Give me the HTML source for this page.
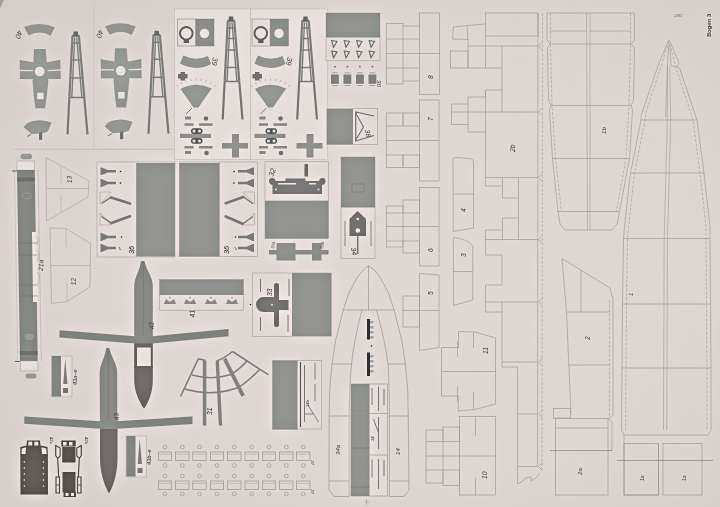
<!DOCTYPE html>
<html><head><meta charset="utf-8"><title>Bogen 3</title>
<style>
html,body{margin:0;padding:0;background:#e1dddb;}
body{width:720px;height:507px;overflow:hidden;font-family:"Liberation Sans",sans-serif;}
svg{display:block;font-family:"Liberation Sans",sans-serif;font-style:italic;}
</style></head><body>
<svg width="720" height="507" viewBox="0 0 720 507">
<defs>
<radialGradient id="bg" cx="0.56" cy="0.52" r="0.76">
<stop offset="0" stop-color="#dfd7d4"/><stop offset="0.5" stop-color="#ddd5d2"/><stop offset="1" stop-color="#d3cbc8"/>
</radialGradient>
<linearGradient id="lr" x1="0" y1="0" x2="1" y2="0">
<stop offset="0" stop-color="#fff" stop-opacity="0.1"/><stop offset="0.42" stop-color="#fff" stop-opacity="0.06"/><stop offset="0.5" stop-color="#3a302c" stop-opacity="0"/><stop offset="0.66" stop-color="#3a302c" stop-opacity="0.022"/><stop offset="1" stop-color="#3a302c" stop-opacity="0.028"/>
</linearGradient>
<filter id="usm" x="0" y="0" width="1" height="1" color-interpolation-filters="sRGB">
<feGaussianBlur in="SourceGraphic" stdDeviation="7" result="b"/>
<feComposite in="SourceGraphic" in2="b" operator="arithmetic" k1="0" k2="1.28" k3="-0.28" k4="0" result="u1"/>
<feGaussianBlur in="u1" stdDeviation="1.6" result="b2"/>
<feComposite in="u1" in2="b2" operator="arithmetic" k1="0" k2="1.15" k3="-0.15" k4="0"/>
</filter>
<filter id="soft" x="-2%" y="-2%" width="104%" height="104%"><feGaussianBlur stdDeviation="0.55"/></filter>
</defs>
<g filter="url(#usm)">
<rect x="-30" y="-30" width="780" height="567" fill="url(#bg)"/>
<polygon points="0,0 4,0 0,8" fill="#adacab"/>
<g filter="url(#soft)">
<g transform="translate(0 0)">
<path d="M24,27 Q39.5,20.8 54.8,27.3 L50.6,35.7 Q39.5,29.4 28.7,35.5 Z" fill="#9c9d9a" stroke="none" stroke-width="0.7" />
<text x="18" y="30" font-size="7.3" fill="#666" transform="rotate(110 18 30)" >40</text>
<polygon points="34,49 45.6,49 47.5,70 48.3,82 46.5,98 45,108.3 35.5,108.3 34,98 32.6,82 33,70" fill="#9c9d9a" stroke="none" stroke-width="0.7" />
<polygon points="19.7,60 33.5,62.3 33.5,70 19.9,69.7" fill="#9c9d9a" stroke="none" stroke-width="0.7" />
<polygon points="19.9,71.2 33.5,71.2 33.5,79 19.9,79" fill="#9c9d9a" stroke="none" stroke-width="0.7" />
<polygon points="46,62.5 60.3,59.8 60.5,69.3 46,70" fill="#9c9d9a" stroke="none" stroke-width="0.7" />
<polygon points="46,71.2 60.5,70.7 60.7,79 46,79" fill="#9c9d9a" stroke="none" stroke-width="0.7" />
<circle cx="39.7" cy="71.5" r="4.8" fill="#e0d9d6" stroke="none" stroke-width="0.7"/>
<circle cx="39.7" cy="71.5" r="2.6" fill="none" stroke="#c8c4c2" stroke-width="0.5"/>
<rect x="37.2" y="92.7" width="6.4" height="6.5" fill="#e0d9d6" />
<line x1="72.5" y1="35.5" x2="67.5" y2="134.4" stroke="#8e8e8c" stroke-width="2.2" />
<line x1="78.9" y1="35.5" x2="87.5" y2="134.4" stroke="#8e8e8c" stroke-width="2.2" />
<line x1="74.7" y1="37.5" x2="71.74" y2="98" stroke="#8e8e8c" stroke-width="1.4" />
<line x1="76.7" y1="37.5" x2="81.93" y2="98" stroke="#8e8e8c" stroke-width="1.4" />
<line x1="72.12" y1="43" x2="79.55" y2="43" stroke="#8e8e8c" stroke-width="1.5" />
<line x1="71.26" y1="60" x2="81.03" y2="60" stroke="#8e8e8c" stroke-width="1.5" />
<line x1="70.35" y1="78" x2="82.6" y2="78" stroke="#8e8e8c" stroke-width="1.5" />
<line x1="69.37" y1="97.5" x2="84.29" y2="97.5" stroke="#8e8e8c" stroke-width="1.5" />
<rect x="72.2" y="34.5" width="7.0" height="2.5" fill="#8e8e8c" />
<rect x="73.5" y="31.5" width="4.4" height="4.5" fill="#7e7b79" />
<polygon points="23.5,127 27.5,123 33,121 40,120.2 46,121 51.5,122.8 47.8,131.5 42.5,133.3 39,133.5 31.5,134" fill="#9c9d9a" stroke="none" stroke-width="0.7" />
<polygon points="39,132.5 42.2,132.5 42.2,139.8 39,139.8" fill="#858280" stroke="none" stroke-width="0.7" />
<line x1="27" y1="136.5" x2="31" y2="134.3" stroke="#555" stroke-width="0.6" />
</g>
<g transform="translate(81 -0.7)">
<path d="M24,27 Q39.5,20.8 54.8,27.3 L50.6,35.7 Q39.5,29.4 28.7,35.5 Z" fill="#9c9d9a" stroke="none" stroke-width="0.7" />
<text x="18" y="30" font-size="7.3" fill="#666" transform="rotate(110 18 30)" >40</text>
<polygon points="34,49 45.6,49 47.5,70 48.3,82 46.5,98 45,108.3 35.5,108.3 34,98 32.6,82 33,70" fill="#9c9d9a" stroke="none" stroke-width="0.7" />
<polygon points="19.7,60 33.5,62.3 33.5,70 19.9,69.7" fill="#9c9d9a" stroke="none" stroke-width="0.7" />
<polygon points="19.9,71.2 33.5,71.2 33.5,79 19.9,79" fill="#9c9d9a" stroke="none" stroke-width="0.7" />
<polygon points="46,62.5 60.3,59.8 60.5,69.3 46,70" fill="#9c9d9a" stroke="none" stroke-width="0.7" />
<polygon points="46,71.2 60.5,70.7 60.7,79 46,79" fill="#9c9d9a" stroke="none" stroke-width="0.7" />
<circle cx="39.7" cy="71.5" r="4.8" fill="#e0d9d6" stroke="none" stroke-width="0.7"/>
<circle cx="39.7" cy="71.5" r="2.6" fill="none" stroke="#c8c4c2" stroke-width="0.5"/>
<rect x="37.2" y="92.7" width="6.4" height="6.5" fill="#e0d9d6" />
<line x1="72.5" y1="35.5" x2="67.5" y2="134.4" stroke="#8e8e8c" stroke-width="2.2" />
<line x1="78.9" y1="35.5" x2="87.5" y2="134.4" stroke="#8e8e8c" stroke-width="2.2" />
<line x1="74.7" y1="37.5" x2="71.74" y2="98" stroke="#8e8e8c" stroke-width="1.4" />
<line x1="76.7" y1="37.5" x2="81.93" y2="98" stroke="#8e8e8c" stroke-width="1.4" />
<line x1="72.12" y1="43" x2="79.55" y2="43" stroke="#8e8e8c" stroke-width="1.5" />
<line x1="71.26" y1="60" x2="81.03" y2="60" stroke="#8e8e8c" stroke-width="1.5" />
<line x1="70.35" y1="78" x2="82.6" y2="78" stroke="#8e8e8c" stroke-width="1.5" />
<line x1="69.37" y1="97.5" x2="84.29" y2="97.5" stroke="#8e8e8c" stroke-width="1.5" />
<rect x="72.2" y="34.5" width="7.0" height="2.5" fill="#8e8e8c" />
<rect x="73.5" y="31.5" width="4.4" height="4.5" fill="#7e7b79" />
<polygon points="23.5,127 27.5,123 33,121 40,120.2 46,121 51.5,122.8 47.8,131.5 42.5,133.3 39,133.5 31.5,134" fill="#9c9d9a" stroke="none" stroke-width="0.7" />
<polygon points="39,132.5 42.2,132.5 42.2,139.8 39,139.8" fill="#858280" stroke="none" stroke-width="0.7" />
<line x1="27" y1="136.5" x2="31" y2="134.3" stroke="#555" stroke-width="0.6" />
</g>
<line x1="94" y1="4" x2="94" y2="148" stroke="#cbc4c1" stroke-width="0.6" />
<line x1="14" y1="149.3" x2="175" y2="149.3" stroke="#c4bdba" stroke-width="0.7" />
<rect x="174.5" y="9" width="76.0" height="150.5" fill="#e2dbd8" stroke="#c6bebb" stroke-width="0.6"/>
<rect x="250.5" y="9" width="77.0" height="150.5" fill="#e2dbd8" stroke="#c6bebb" stroke-width="0.6"/>
<g transform="translate(0 0)">
<rect x="177.5" y="19" width="36.5" height="27" fill="#dfd7d4" stroke="#a39c99" stroke-width="0.6"/>
<rect x="195.3" y="19" width="18.7" height="27" fill="#959693" />
<circle cx="204.5" cy="33.5" r="4.7" fill="#e0d9d6" stroke="none" stroke-width="0.7"/>
<circle cx="186.3" cy="33.3" r="6.3" fill="#e0d9d6" stroke="#787674" stroke-width="1.9"/>
<rect x="183.7" y="39.5" width="5.3" height="3.5" fill="#787674" />
<path d="M183.3,55.5 Q196,61.5 208,56 L211,64 Q196,72 180,63.5 Z" fill="#9c9d9a" stroke="none" stroke-width="0.7" />
<text x="213" y="57" font-size="7.3" fill="#666" transform="rotate(100 213 57)" >39</text>
<rect x="178" y="74" width="9.5" height="4.5" fill="#858280" />
<rect x="180.5" y="72" width="4.5" height="8.5" fill="#858280" />
<path d="M196,111 L180.5,89 Q196,81 211.7,88.5 Z" fill="#9c9d9a" stroke="none" stroke-width="0.7" />
<polygon points="193.3,107.5 198.7,107.5 196,111.5" fill="#e0d9d6" stroke="none" stroke-width="0.7" />
<line x1="177.8" y1="86.8" x2="176.6" y2="85.2" stroke="#999" stroke-width="0.5" />
<line x1="181.9" y1="84.1" x2="181.0" y2="82.3" stroke="#999" stroke-width="0.5" />
<line x1="186.4" y1="82.1" x2="185.7" y2="80.2" stroke="#999" stroke-width="0.5" />
<line x1="191.1" y1="80.9" x2="190.8" y2="78.9" stroke="#999" stroke-width="0.5" />
<line x1="196.0" y1="80.5" x2="196.0" y2="78.5" stroke="#999" stroke-width="0.5" />
<line x1="200.9" y1="80.9" x2="201.2" y2="78.9" stroke="#999" stroke-width="0.5" />
<line x1="205.6" y1="82.1" x2="206.3" y2="80.2" stroke="#999" stroke-width="0.5" />
<line x1="210.1" y1="84.1" x2="211.0" y2="82.3" stroke="#999" stroke-width="0.5" />
<line x1="214.2" y1="86.8" x2="215.4" y2="85.2" stroke="#999" stroke-width="0.5" />
<line x1="186" y1="114" x2="192" y2="108" stroke="#666" stroke-width="0.6" />
<line x1="227.8" y1="20.5" x2="222.7" y2="119.5" stroke="#8e8e8c" stroke-width="2.2" />
<line x1="234.2" y1="20.5" x2="242.5" y2="119.5" stroke="#8e8e8c" stroke-width="2.2" />
<line x1="230.0" y1="22.5" x2="227.03" y2="82" stroke="#8e8e8c" stroke-width="1.4" />
<line x1="232.0" y1="22.5" x2="236.96" y2="82" stroke="#8e8e8c" stroke-width="1.4" />
<line x1="227.41" y1="28" x2="234.83" y2="28" stroke="#8e8e8c" stroke-width="1.5" />
<line x1="226.87" y1="38.5" x2="235.71" y2="38.5" stroke="#8e8e8c" stroke-width="1.5" />
<line x1="226.28" y1="50" x2="236.67" y2="50" stroke="#8e8e8c" stroke-width="1.5" />
<line x1="225.38" y1="67.5" x2="238.14" y2="67.5" stroke="#8e8e8c" stroke-width="1.5" />
<line x1="224.66" y1="81.5" x2="239.31" y2="81.5" stroke="#8e8e8c" stroke-width="1.5" />
<rect x="227.5" y="19.5" width="7.0" height="2.5" fill="#8e8e8c" />
<rect x="228.8" y="16.5" width="4.4" height="4.5" fill="#7e7b79" />
<circle cx="206" cy="118.5" r="2.3" fill="#888785" stroke="none" stroke-width="0.7"/>
<rect x="185" y="116.5" width="6" height="3.0" fill="#999896" />
<rect x="184.5" y="123.3" width="9.0" height="2.5" fill="#999896" />
<rect x="199" y="123.3" width="13.5" height="2.5" fill="#999896" />
<rect x="180" y="133.8" width="31" height="4.2" fill="#9b9a98" />
<rect x="191" y="128.3" width="11.5" height="5.6" rx="2.7" fill="#6c6c6c"/>
<rect x="191" y="138" width="11.5" height="5.8" rx="2.7" fill="#6c6c6c"/>
<circle cx="194" cy="131" r="1.5" fill="#d9d3d1" stroke="none" stroke-width="0.7"/>
<circle cx="199.5" cy="131" r="1.5" fill="#d9d3d1" stroke="none" stroke-width="0.7"/>
<circle cx="194" cy="141" r="1.5" fill="#d9d3d1" stroke="none" stroke-width="0.7"/>
<circle cx="199.5" cy="141" r="1.5" fill="#d9d3d1" stroke="none" stroke-width="0.7"/>
<rect x="184.5" y="146" width="9.0" height="2.5" fill="#999896" />
<rect x="199" y="146" width="13.5" height="2.5" fill="#999896" />
<circle cx="206.5" cy="153" r="2.3" fill="#888785" stroke="none" stroke-width="0.7"/>
<rect x="185" y="151" width="6" height="3" fill="#999896" />
<rect x="232" y="134" width="7" height="23.5" fill="#9b9a98" />
<rect x="222" y="143" width="26" height="5.5" fill="#9b9a98" />
</g>
<g transform="translate(74.5 0)">
<rect x="177.5" y="19" width="36.5" height="27" fill="#dfd7d4" stroke="#a39c99" stroke-width="0.6"/>
<rect x="195.3" y="19" width="18.7" height="27" fill="#959693" />
<circle cx="204.5" cy="33.5" r="4.7" fill="#e0d9d6" stroke="none" stroke-width="0.7"/>
<circle cx="186.3" cy="33.3" r="6.3" fill="#e0d9d6" stroke="#787674" stroke-width="1.9"/>
<rect x="183.7" y="39.5" width="5.3" height="3.5" fill="#787674" />
<path d="M183.3,55.5 Q196,61.5 208,56 L211,64 Q196,72 180,63.5 Z" fill="#9c9d9a" stroke="none" stroke-width="0.7" />
<text x="213" y="57" font-size="7.3" fill="#666" transform="rotate(100 213 57)" >39</text>
<rect x="178" y="74" width="9.5" height="4.5" fill="#858280" />
<rect x="180.5" y="72" width="4.5" height="8.5" fill="#858280" />
<path d="M196,111 L180.5,89 Q196,81 211.7,88.5 Z" fill="#9c9d9a" stroke="none" stroke-width="0.7" />
<polygon points="193.3,107.5 198.7,107.5 196,111.5" fill="#e0d9d6" stroke="none" stroke-width="0.7" />
<line x1="177.8" y1="86.8" x2="176.6" y2="85.2" stroke="#999" stroke-width="0.5" />
<line x1="181.9" y1="84.1" x2="181.0" y2="82.3" stroke="#999" stroke-width="0.5" />
<line x1="186.4" y1="82.1" x2="185.7" y2="80.2" stroke="#999" stroke-width="0.5" />
<line x1="191.1" y1="80.9" x2="190.8" y2="78.9" stroke="#999" stroke-width="0.5" />
<line x1="196.0" y1="80.5" x2="196.0" y2="78.5" stroke="#999" stroke-width="0.5" />
<line x1="200.9" y1="80.9" x2="201.2" y2="78.9" stroke="#999" stroke-width="0.5" />
<line x1="205.6" y1="82.1" x2="206.3" y2="80.2" stroke="#999" stroke-width="0.5" />
<line x1="210.1" y1="84.1" x2="211.0" y2="82.3" stroke="#999" stroke-width="0.5" />
<line x1="214.2" y1="86.8" x2="215.4" y2="85.2" stroke="#999" stroke-width="0.5" />
<line x1="186" y1="114" x2="192" y2="108" stroke="#666" stroke-width="0.6" />
<line x1="227.8" y1="20.5" x2="222.7" y2="119.5" stroke="#8e8e8c" stroke-width="2.2" />
<line x1="234.2" y1="20.5" x2="242.5" y2="119.5" stroke="#8e8e8c" stroke-width="2.2" />
<line x1="230.0" y1="22.5" x2="227.03" y2="82" stroke="#8e8e8c" stroke-width="1.4" />
<line x1="232.0" y1="22.5" x2="236.96" y2="82" stroke="#8e8e8c" stroke-width="1.4" />
<line x1="227.41" y1="28" x2="234.83" y2="28" stroke="#8e8e8c" stroke-width="1.5" />
<line x1="226.87" y1="38.5" x2="235.71" y2="38.5" stroke="#8e8e8c" stroke-width="1.5" />
<line x1="226.28" y1="50" x2="236.67" y2="50" stroke="#8e8e8c" stroke-width="1.5" />
<line x1="225.38" y1="67.5" x2="238.14" y2="67.5" stroke="#8e8e8c" stroke-width="1.5" />
<line x1="224.66" y1="81.5" x2="239.31" y2="81.5" stroke="#8e8e8c" stroke-width="1.5" />
<rect x="227.5" y="19.5" width="7.0" height="2.5" fill="#8e8e8c" />
<rect x="228.8" y="16.5" width="4.4" height="4.5" fill="#7e7b79" />
<circle cx="206" cy="118.5" r="2.3" fill="#888785" stroke="none" stroke-width="0.7"/>
<rect x="185" y="116.5" width="6" height="3.0" fill="#999896" />
<rect x="184.5" y="123.3" width="9.0" height="2.5" fill="#999896" />
<rect x="199" y="123.3" width="13.5" height="2.5" fill="#999896" />
<rect x="180" y="133.8" width="31" height="4.2" fill="#9b9a98" />
<rect x="191" y="128.3" width="11.5" height="5.6" rx="2.7" fill="#6c6c6c"/>
<rect x="191" y="138" width="11.5" height="5.8" rx="2.7" fill="#6c6c6c"/>
<circle cx="194" cy="131" r="1.5" fill="#d9d3d1" stroke="none" stroke-width="0.7"/>
<circle cx="199.5" cy="131" r="1.5" fill="#d9d3d1" stroke="none" stroke-width="0.7"/>
<circle cx="194" cy="141" r="1.5" fill="#d9d3d1" stroke="none" stroke-width="0.7"/>
<circle cx="199.5" cy="141" r="1.5" fill="#d9d3d1" stroke="none" stroke-width="0.7"/>
<rect x="184.5" y="146" width="9.0" height="2.5" fill="#999896" />
<rect x="199" y="146" width="13.5" height="2.5" fill="#999896" />
<circle cx="206.5" cy="153" r="2.3" fill="#888785" stroke="none" stroke-width="0.7"/>
<rect x="185" y="151" width="6" height="3" fill="#999896" />
<rect x="232" y="134" width="7" height="23.5" fill="#9b9a98" />
<rect x="222" y="143" width="26" height="5.5" fill="#9b9a98" />
</g>
<rect x="326" y="13" width="54" height="47.8" fill="#dfd7d4" stroke="#b1aaa7" stroke-width="0.6"/>
<rect x="326" y="13" width="54" height="24.5" fill="#959693" />
<polygon points="331.7,40.5 337.0,41.5 333.5,47.3" fill="none" stroke="#838383" stroke-width="1.2" />
<polygon points="331.7,51 337.0,52 333.5,57.8" fill="none" stroke="#838383" stroke-width="1.2" />
<polygon points="344.2,40.5 349.5,41.5 346.0,47.3" fill="none" stroke="#838383" stroke-width="1.2" />
<polygon points="344.2,51 349.5,52 346.0,57.8" fill="none" stroke="#838383" stroke-width="1.2" />
<polygon points="356.7,40.5 362.0,41.5 358.5,47.3" fill="none" stroke="#838383" stroke-width="1.2" />
<polygon points="356.7,51 362.0,52 358.5,57.8" fill="none" stroke="#838383" stroke-width="1.2" />
<polygon points="369.2,40.5 374.5,41.5 371.0,47.3" fill="none" stroke="#838383" stroke-width="1.2" />
<polygon points="369.2,51 374.5,52 371.0,57.8" fill="none" stroke="#838383" stroke-width="1.2" />
<rect x="331.0" y="74.5" width="7.8" height="9.3" fill="#8e8e8e" />
<rect x="332.0" y="72.3" width="5.8" height="1.0" fill="#aaa" />
<rect x="332.0" y="85" width="5.8" height="1" fill="#aaa" />
<circle cx="334.9" cy="66.7" r="0.9" fill="#888785" stroke="none" stroke-width="0.7"/>
<rect x="343.5" y="74.5" width="7.8" height="9.3" fill="#8e8e8e" />
<rect x="344.5" y="72.3" width="5.8" height="1.0" fill="#aaa" />
<rect x="344.5" y="85" width="5.8" height="1" fill="#aaa" />
<circle cx="347.4" cy="66.7" r="0.9" fill="#888785" stroke="none" stroke-width="0.7"/>
<rect x="356.0" y="74.5" width="7.8" height="9.3" fill="#8e8e8e" />
<rect x="357.0" y="72.3" width="5.8" height="1.0" fill="#aaa" />
<rect x="357.0" y="85" width="5.8" height="1" fill="#aaa" />
<circle cx="359.9" cy="66.7" r="0.9" fill="#888785" stroke="none" stroke-width="0.7"/>
<rect x="368.5" y="74.5" width="7.8" height="9.3" fill="#8e8e8e" />
<rect x="369.5" y="72.3" width="5.8" height="1.0" fill="#aaa" />
<rect x="369.5" y="85" width="5.8" height="1" fill="#aaa" />
<circle cx="372.4" cy="66.7" r="0.9" fill="#888785" stroke="none" stroke-width="0.7"/>
<text x="377" y="80" font-size="6.1" fill="#666" transform="rotate(90 377 80)" >30</text>
<rect x="326.7" y="108.5" width="51.0" height="35.8" fill="#dfd7d4" stroke="#b1aaa7" stroke-width="0.6"/>
<rect x="327" y="109" width="26" height="35.5" fill="#959693" />
<polyline points="374,116 355.7,112 355.7,141 374,135.5" fill="none" stroke="#858585" stroke-width="1.2" />
<polyline points="355.7,113 363.5,127 355.7,140" fill="none" stroke="#858585" stroke-width="1.1" />
<text x="365" y="130" font-size="6.7" fill="#666" transform="rotate(80 365 130)" >38</text>
<rect x="341" y="157" width="34" height="101.5" fill="#dfd7d4" stroke="#b1aaa7" stroke-width="0.6"/>
<rect x="341" y="157" width="34" height="50.5" fill="#959693" />
<rect x="352" y="184" width="12" height="8" fill="none" stroke="#7c7c7a" stroke-width="0.5" />
<polygon points="349.5,219 357.5,211 366,219 366,236 349.5,236" fill="#7e7b79" stroke="none" stroke-width="0.7" />
<circle cx="357.8" cy="219" r="1.3" fill="#d9d3d1" stroke="none" stroke-width="0.7"/>
<circle cx="357.8" cy="230.5" r="2.3" fill="#e0d9d6" stroke="none" stroke-width="0.7"/>
<line x1="357.8" y1="236" x2="357.8" y2="254" stroke="#666" stroke-width="1" />
<line x1="345" y1="221" x2="345" y2="246" stroke="#868584" stroke-width="0.8" />
<line x1="371" y1="221" x2="371" y2="246" stroke="#868584" stroke-width="0.8" />
<text x="351" y="248" font-size="6.7" fill="#555" transform="rotate(80 351 248)" >34</text>
<rect x="20.5" y="153.8" width="11.5" height="5.4" rx="2.7" fill="#a3a2a0"/>
<polygon points="17,161 34.5,161 34.5,170 17,170" fill="#e0d9d6" stroke="#aaa3a0" stroke-width="0.5" />
<polygon points="17.0,170 34.7,170 37.72,361 20.02,361" fill="#8b8c8a" stroke="none" stroke-width="0.7" />
<polygon points="17.12,177.5 34.82,177.5 34.88,181.5 17.18,181.5" fill="#7c7a78" stroke="none" stroke-width="0.7" />
<polygon points="19.86,351 37.56,351 37.62,355 19.92,355" fill="#7c7a78" stroke="none" stroke-width="0.7" />
<polygon points="31.98,232 36.98,232 38.08,302 33.08,302" fill="#e0d9d6" stroke="none" stroke-width="0.7" />
<line x1="18.15" y1="243" x2="37.15" y2="243" stroke="#7a7a7a" stroke-width="0.5" />
<line x1="18.34" y1="255" x2="37.34" y2="255" stroke="#7a7a7a" stroke-width="0.5" />
<line x1="18.82" y1="285" x2="37.82" y2="285" stroke="#7a7a7a" stroke-width="0.5" />
<line x1="18.99" y1="296" x2="37.99" y2="296" stroke="#7a7a7a" stroke-width="0.5" />
<path d="M36.5,236 q3,4 0,9 M37,250 q4,5 0,11 M37.5,272 q4,6 0,12" fill="none" stroke="#aaa3a0" stroke-width="0.5" />
<line x1="38" y1="170" x2="41.32" y2="361" stroke="#b0a9a6" stroke-width="0.5" />
<line x1="14.5" y1="170" x2="17.72" y2="361" stroke="#bab2af" stroke-width="0.5" />
<rect x="22.5" y="193" width="8.5" height="5.5" rx="2.7" fill="none" stroke="#a5a5a3" stroke-width="0.6"/>
<rect x="25" y="334" width="8.5" height="5.5" rx="2.7" fill="#9a9a98" stroke="#a5a5a3" stroke-width="0.5"/>
<polygon points="20.5,361 38,361 38,371 20.5,371" fill="#e0d9d6" stroke="#aaa3a0" stroke-width="0.5" />
<rect x="25.5" y="373.5" width="11" height="5" rx="2.5" fill="#a3a2a0"/>
<line x1="12" y1="171" x2="17" y2="171" stroke="#666" stroke-width="0.8" />
<line x1="15" y1="361.5" x2="20" y2="361.5" stroke="#666" stroke-width="0.8" />
<text x="43" y="271" font-size="6.7" fill="#666" transform="rotate(-88 43 271)" >21a</text>
<polygon points="46,157.5 89,181 88,197 46.5,221" fill="none" stroke="#b3aca9" stroke-width="0.6" />
<line x1="46" y1="188.5" x2="89" y2="188.5" stroke="#b3aca9" stroke-width="0.6" />
<line x1="61" y1="166" x2="61" y2="183" stroke="#b3aca9" stroke-width="0.5" />
<line x1="61" y1="195" x2="61" y2="212" stroke="#b3aca9" stroke-width="0.5" />
<text x="72" y="183" font-size="6.7" fill="#666" transform="rotate(-95 72 183)" >13</text>
<polygon points="50,228 66,228.5 90.5,243.5 90,287 67,301.5 51.5,303.5" fill="none" stroke="#b3aca9" stroke-width="0.6" />
<line x1="50.5" y1="265.5" x2="90" y2="265.5" stroke="#b3aca9" stroke-width="0.6" />
<line x1="66" y1="229" x2="66" y2="247" stroke="#b3aca9" stroke-width="0.5" />
<line x1="67" y1="284" x2="67" y2="301" stroke="#b3aca9" stroke-width="0.5" />
<text x="76" y="285" font-size="6.7" fill="#666" transform="rotate(-95 76 285)" >12</text>
<rect x="97" y="162" width="78" height="95" fill="#dfd7d4" stroke="#b1aaa7" stroke-width="0.6"/>
<rect x="136.2" y="163" width="38.8" height="93.5" fill="#959693" />
<polygon points="100.5,167.5 101.7,167.5 108.0,169.95 116,169.95 116,172.55 108.0,172.55 101.7,175 100.5,175" fill="#8c8c8a" stroke="none" stroke-width="0.7" />
<polygon points="100.5,179 101.7,179 108.0,181.7 116,181.7 116,184.3 108.0,184.3 101.7,187 100.5,187" fill="#8c8c8a" stroke="none" stroke-width="0.7" />
<circle cx="120.5" cy="171.5" r="0.8" fill="#555" stroke="none" stroke-width="0.7"/>
<circle cx="120.5" cy="183" r="0.8" fill="#555" stroke="none" stroke-width="0.7"/>
<polygon points="100,192 111,192 100,204" fill="none" stroke="#aaa3a0" stroke-width="0.5" />
<line x1="111" y1="197.5" x2="130" y2="203.5" stroke="#8c8c8a" stroke-width="2.7" stroke-linecap="round"/>
<line x1="101.5" y1="203.5" x2="111" y2="197.3" stroke="#8c8c8a" stroke-width="1.4" />
<polygon points="100,213 100,225 111,225" fill="none" stroke="#aaa3a0" stroke-width="0.5" />
<line x1="111.5" y1="223" x2="130" y2="216.3" stroke="#8c8c8a" stroke-width="2.7" stroke-linecap="round"/>
<line x1="101.5" y1="216.5" x2="111.5" y2="223.2" stroke="#8c8c8a" stroke-width="1.4" />
<polygon points="100.5,233 101.7,233 108.0,235.7 116,235.7 116,238.3 108.0,238.3 101.7,241 100.5,241" fill="#8c8c8a" stroke="none" stroke-width="0.7" />
<polygon points="100.5,244 101.7,244 108.0,246.7 116,246.7 116,249.3 108.0,249.3 101.7,252 100.5,252" fill="#8c8c8a" stroke="none" stroke-width="0.7" />
<circle cx="121.5" cy="237" r="0.8" fill="#555" stroke="none" stroke-width="0.7"/>
<line x1="119" y1="247" x2="120.5" y2="250" stroke="#555" stroke-width="0.6" />
<text x="134" y="254" font-size="7.3" fill="#555" transform="rotate(-90 134 254)" >36</text>
<rect x="179.3" y="162" width="78.2" height="94.5" fill="#dfd7d4" stroke="#b1aaa7" stroke-width="0.6"/>
<rect x="179.3" y="163" width="40.2" height="93.5" fill="#959693" />
<line x1="219.5" y1="162" x2="219.5" y2="256.5" stroke="#aaa3a0" stroke-width="0.5" />
<polygon points="254,167.5 252.8,167.5 246.5,169.95 238,169.95 238,172.55 246.5,172.55 252.8,175 254,175" fill="#8c8c8a" stroke="none" stroke-width="0.7" />
<polygon points="254,179 252.8,179 246.5,181.7 238,181.7 238,184.3 246.5,184.3 252.8,187 254,187" fill="#8c8c8a" stroke="none" stroke-width="0.7" />
<circle cx="234" cy="171.5" r="0.8" fill="#555" stroke="none" stroke-width="0.7"/>
<circle cx="234" cy="183" r="0.8" fill="#555" stroke="none" stroke-width="0.7"/>
<line x1="225.7" y1="203.2" x2="243.3" y2="197" stroke="#8c8c8a" stroke-width="2.7" stroke-linecap="round"/>
<line x1="243.3" y1="196.8" x2="253" y2="203.8" stroke="#8c8c8a" stroke-width="1.4" />
<line x1="225.7" y1="216.5" x2="242.5" y2="223.8" stroke="#8c8c8a" stroke-width="2.7" stroke-linecap="round"/>
<line x1="242.5" y1="224" x2="253" y2="216.5" stroke="#8c8c8a" stroke-width="1.4" />
<polygon points="254.5,192 243,192 254.5,204" fill="none" stroke="#aaa3a0" stroke-width="0.5" />
<polygon points="254.5,213 254.5,225 243,225" fill="none" stroke="#aaa3a0" stroke-width="0.5" />
<polygon points="254,233 252.8,233 246.5,235.7 238,235.7 238,238.3 246.5,238.3 252.8,241 254,241" fill="#8c8c8a" stroke="none" stroke-width="0.7" />
<polygon points="254,244 252.8,244 246.5,246.7 238,246.7 238,249.3 246.5,249.3 252.8,252 254,252" fill="#8c8c8a" stroke="none" stroke-width="0.7" />
<circle cx="235.5" cy="237" r="0.8" fill="#555" stroke="none" stroke-width="0.7"/>
<line x1="235" y1="247" x2="236.5" y2="250" stroke="#555" stroke-width="0.6" />
<text x="228.5" y="254" font-size="7.3" fill="#555" transform="rotate(-90 228.5 254)" >36</text>
<rect x="265" y="161.5" width="63.5" height="77.0" fill="#dfd7d4" stroke="#b1aaa7" stroke-width="0.6"/>
<rect x="265" y="200.7" width="63.5" height="37.8" fill="#959693" />
<rect x="304.5" y="164" width="3.5" height="12.5" fill="#807d7b" />
<path d="M269,181 q0,-3 3,-3 q3,0 3.5,3 l10,0 l0,-2.5 l20,0 l0,2.5 l13.5,0 q0.5,-3 3.5,-3 q3,0 3,3 q0,3 -3.5,4 l0,9 l-49.5,0 l0,-9 q-3.5,-1 -3.500,-4 z" fill="#838080" stroke="none" stroke-width="0.7" />
<rect x="278" y="183" width="18" height="1.5" fill="#d9d3d1" />
<rect x="309" y="183" width="7" height="1.5" fill="#d9d3d1" />
<circle cx="276" cy="189.5" r="1" fill="#d9d3d1" stroke="none" stroke-width="0.7"/>
<circle cx="318.5" cy="189.5" r="1" fill="#d9d3d1" stroke="none" stroke-width="0.7"/>
<text x="273" y="177" font-size="7.3" fill="#666" transform="rotate(-70 273 177)" >32</text>
<rect x="276.5" y="243" width="19.0" height="17.5" fill="#949593" />
<rect x="312" y="243" width="9.5" height="17.5" fill="#949593" />
<rect x="269" y="250" width="59.5" height="4.5" fill="#969694" />
<text x="274" y="249" font-size="4.4" fill="#666" transform="rotate(-80 274 249)" >32a</text>
<text x="323" y="249" font-size="4.4" fill="#666" transform="rotate(-80 323 249)" >32b</text>
<rect x="159.5" y="279.5" width="83.8" height="30.7" fill="#dfd7d4" stroke="#b1aaa7" stroke-width="0.6"/>
<rect x="159.5" y="279.5" width="84.0" height="15.5" fill="#959693" />
<polygon points="164,304 166,299 169,301.5 171,301.5 174,299 176,304" fill="#999896" stroke="none" stroke-width="0.7" />
<circle cx="170" cy="297.7" r="0.6" fill="#666" stroke="none" stroke-width="0.7"/>
<polygon points="184,304 186,299 189,301.5 191,301.5 194,299 196,304" fill="#999896" stroke="none" stroke-width="0.7" />
<circle cx="190" cy="297.7" r="0.6" fill="#666" stroke="none" stroke-width="0.7"/>
<polygon points="205,304 207,299 210,301.5 212,301.5 215,299 217,304" fill="#999896" stroke="none" stroke-width="0.7" />
<circle cx="211" cy="297.7" r="0.6" fill="#666" stroke="none" stroke-width="0.7"/>
<polygon points="226,304 228,299 231,301.5 233,301.5 236,299 238,304" fill="#999896" stroke="none" stroke-width="0.7" />
<circle cx="232" cy="297.7" r="0.6" fill="#666" stroke="none" stroke-width="0.7"/>
<text x="195" y="317.5" font-size="7.3" fill="#666" transform="rotate(-95 195 317.5)" >41</text>
<rect x="252.7" y="273" width="78.6" height="63.3" fill="#dfd7d4" stroke="#b1aaa7" stroke-width="0.6"/>
<rect x="292" y="273" width="39.3" height="63" fill="#959693" />
<path d="M256,304.5 A7.5,7.5 0 0 1 263.5,297 L274,297 L274,285.5 Q274,283 276.5,283 Q279,283 279,285.5 L279,300 L288.5,300 L288.5,310 L279,310 L279,324.5 Q279,327 276.5,327 Q274,327 274,324.5 L274,312 L263.5,312 A7.5,7.5 0 0 1 256,304.5 Z" fill="#7e7b79" stroke="none" stroke-width="0.7" />
<circle cx="272" cy="304.7" r="1" fill="#ccc" stroke="none" stroke-width="0.7"/>
<line x1="260.5" y1="279" x2="260.5" y2="292" stroke="#868584" stroke-width="0.9" />
<line x1="289" y1="279" x2="289" y2="296" stroke="#868584" stroke-width="0.9" />
<line x1="260.5" y1="317" x2="260.5" y2="331" stroke="#868584" stroke-width="0.9" />
<line x1="288" y1="315" x2="288" y2="332" stroke="#868584" stroke-width="0.9" />
<text x="271.5" y="296" font-size="6.7" fill="#555" transform="rotate(-90 271.5 296)" >33</text>
<circle cx="250.5" cy="304.5" r="0.8" fill="#555" stroke="none" stroke-width="0.7"/>
<path d="M141,261 L144.3,261 C145.5,265 147,269 148.5,272 C151,277 152.8,281 152.8,286 L152.8,345 L134.2,345 L134.2,286 C134.2,281 136,277 138,272 C139.500,269 140.200,265 141,261 Z" fill="#8d8e8b" stroke="none" stroke-width="0.7" />
<polygon points="59.5,330.3 135,336.3 135,343.5 59.5,337.6" fill="#8d8e8b" stroke="none" stroke-width="0.7" />
<polygon points="228.5,329 152,336.3 152,343.5 228.5,336.3" fill="#8d8e8b" stroke="none" stroke-width="0.7" />
<line x1="143.3" y1="262" x2="143.3" y2="336" stroke="#7b7c79" stroke-width="0.5" />
<rect x="134.2" y="343.5" width="18.6" height="24.5" fill="#747472" />
<rect x="137" y="347.5" width="13.8" height="18.5" fill="#e0d9d6" />
<path d="M134.2,366 L152.8,366 L152.8,380 C152.8,390 150,400 144,408.8 C138,400 134.2,390 134.2,380 Z" fill="#787270" stroke="none" stroke-width="0.7" />
<text x="154.5" y="329" font-size="6.7" fill="#555" transform="rotate(-100 154.5 329)" >42</text>
<path d="M106.3,348 L109.3,348 C110.3,352 111.8,356 113.300,359 C115.500,364 117.2,368 117.2,373 L117.3,429 L100,429 L99.6,373 C99.6,368 101.300,364 103.300,359 C104.800,356 105.500,352 106.3,348 Z" fill="#8d8e8b" stroke="none" stroke-width="0.7" />
<polygon points="24.3,416.5 100.5,421.3 100.5,428.8 24.3,423.8" fill="#8d8e8b" stroke="none" stroke-width="0.7" />
<polygon points="192.5,416.5 117,421.3 117,428.8 192.5,424" fill="#8d8e8b" stroke="none" stroke-width="0.7" />
<line x1="108.3" y1="350" x2="108.3" y2="421" stroke="#7b7c79" stroke-width="0.5" />
<path d="M100,429 L117.5,429 L117.5,458 C117.5,470 115,483 109,493.5 C103,483 100,470 100,458 Z" fill="#787270" stroke="none" stroke-width="0.7" />
<text x="119.5" y="420" font-size="6.7" fill="#555" transform="rotate(-100 119.5 420)" >43</text>
<rect x="51.5" y="356" width="20.5" height="41" fill="#dfd7d4" stroke="#b1aaa7" stroke-width="0.5"/>
<rect x="51.8" y="356" width="9.2" height="40.5" fill="#8e8f8d" />
<polygon points="65.2,359 63.2,384 67.5,384" fill="#8c8c8a" stroke="none" stroke-width="0.7" />
<rect x="63.0" y="388" width="5.0" height="5" fill="#888785" />
<text x="76.5" y="385" font-size="5.6" fill="#555" transform="rotate(-90 76.5 385)" >43a–e</text>
<rect x="126" y="436" width="20.5" height="41" fill="#dfd7d4" stroke="#b1aaa7" stroke-width="0.5"/>
<rect x="126.3" y="436" width="9.2" height="40.5" fill="#8e8f8d" />
<polygon points="139.7,439 137.7,464 142,464" fill="#8c8c8a" stroke="none" stroke-width="0.7" />
<rect x="137.5" y="468" width="5.0" height="5" fill="#888785" />
<text x="151" y="465" font-size="5.6" fill="#555" transform="rotate(-90 151 465)" >43b–e</text>
<polygon points="20.3,455 20.3,447 26.5,445.5 27,440.5 40,440.5 40.5,445.5 47.5,447 47.9,455 48,494.5 20.5,494.5" fill="#655f5c" stroke="none" stroke-width="0.7" />
<circle cx="24.3" cy="462" r="0.8" fill="#d9d3d1" stroke="none" stroke-width="0.7"/>
<circle cx="43.5" cy="462" r="0.8" fill="#d9d3d1" stroke="none" stroke-width="0.7"/>
<circle cx="24.3" cy="468" r="0.8" fill="#d9d3d1" stroke="none" stroke-width="0.7"/>
<circle cx="43.5" cy="468" r="0.8" fill="#d9d3d1" stroke="none" stroke-width="0.7"/>
<circle cx="24.3" cy="474" r="0.8" fill="#d9d3d1" stroke="none" stroke-width="0.7"/>
<circle cx="43.5" cy="474" r="0.8" fill="#d9d3d1" stroke="none" stroke-width="0.7"/>
<circle cx="24.3" cy="480" r="0.8" fill="#d9d3d1" stroke="none" stroke-width="0.7"/>
<circle cx="43.5" cy="480" r="0.8" fill="#d9d3d1" stroke="none" stroke-width="0.7"/>
<circle cx="24.3" cy="486" r="0.8" fill="#d9d3d1" stroke="none" stroke-width="0.7"/>
<circle cx="43.5" cy="486" r="0.8" fill="#d9d3d1" stroke="none" stroke-width="0.7"/>
<rect x="28.3" y="441.7" width="3.9" height="3.8" fill="#d9d3d1" />
<rect x="34.3" y="441.7" width="4.0" height="3.8" fill="#d9d3d1" />
<polygon points="21.5,454 21.8,448.5 26,447.3 25.5,454" fill="#d9d3d1" stroke="none" stroke-width="0.7" />
<polygon points="46.7,454 46.3,448.5 41.5,447.3 42,454" fill="#d9d3d1" stroke="none" stroke-width="0.7" />
<text x="49.5" y="437" font-size="4.2" fill="#555" transform="rotate(90 49.5 437)" >42c</text>
<rect x="62.2" y="447" width="13.3" height="15.5" fill="#655f5c" />
<rect x="62.5" y="472" width="13.0" height="20.3" fill="#655f5c" />
<rect x="61.3" y="440.5" width="14.4" height="6.0" fill="#655f5c" />
<rect x="63.5" y="492" width="12.5" height="5" fill="#655f5c" />
<rect x="63" y="442" width="3.5" height="3.5" fill="#d9d3d1" />
<rect x="69" y="442" width="3.5" height="3.5" fill="#d9d3d1" />
<rect x="65.5" y="493" width="3.0" height="3" fill="#d9d3d1" />
<rect x="71" y="493" width="3" height="3" fill="#d9d3d1" />
<polygon points="55.7,445.5 60.2,448 60.2,456 57.7,458.5 55.7,455.5" fill="none" stroke="#655f5c" stroke-width="1.1" />
<line x1="57.7" y1="458.5" x2="58.7" y2="477" stroke="#655f5c" stroke-width="1.1" />
<polygon points="56.0,477 59.5,477 59.5,493 56.0,493" fill="none" stroke="#655f5c" stroke-width="1.1" />
<line x1="56.0" y1="485" x2="59.5" y2="485" stroke="#655f5c" stroke-width="0.8" />
<polygon points="81.3,445.5 76.8,448 76.8,456 79.3,458.5 81.3,455.5" fill="none" stroke="#655f5c" stroke-width="1.1" />
<line x1="79.3" y1="458.5" x2="78.3" y2="477" stroke="#655f5c" stroke-width="1.1" />
<polygon points="81.0,477 77.5,477 77.5,493 81.0,493" fill="none" stroke="#655f5c" stroke-width="1.1" />
<line x1="81.0" y1="485" x2="77.5" y2="485" stroke="#655f5c" stroke-width="0.8" />
<text x="84.5" y="437" font-size="4.2" fill="#555" transform="rotate(90 84.5 437)" >42b</text>
<line x1="180.5" y1="396.5" x2="198.5" y2="358.5" stroke="#929290" stroke-width="1.6" />
<line x1="198.5" y1="358.7" x2="205.5" y2="360.5" stroke="#929290" stroke-width="1.6" />
<polygon points="202.8,360 206.4,360.7 206.3,425.5 202.8,425.5" fill="#929290" stroke="none" stroke-width="0.7" />
<polygon points="215.6,361.2 218.9,360.5 222.2,425.5 218.8,425.5" fill="#929290" stroke="none" stroke-width="0.7" />
<polygon points="223,359.7 226.2,357.8 244.8,395 241.4,396.8" fill="#929290" stroke="none" stroke-width="0.7" />
<line x1="232.5" y1="351.5" x2="268.5" y2="374.8" stroke="#929290" stroke-width="1.6" />
<path d="M216.5,361 Q225,358 232.5,351.5" fill="none" stroke="#929290" stroke-width="1.5" />
<path d="M192,375 Q212,380.5 231,374.5 Q240,369 247.5,360.5" fill="none" stroke="#929290" stroke-width="1.5" />
<path d="M184.5,389 Q212,397 238.5,387.5 Q251,379 260,369" fill="none" stroke="#929290" stroke-width="1.5" />
<text x="212" y="415" font-size="6.7" fill="#555" transform="rotate(-90 212 415)" >31</text>
<rect x="158.3" y="452" width="13.4" height="8.3" fill="none" stroke="#a19a97" stroke-width="0.6" />
<line x1="158.3" y1="454.3" x2="171.7" y2="454.3" stroke="#b0a9a6" stroke-width="0.5" />
<rect x="158.3" y="481" width="13.4" height="8.3" fill="none" stroke="#a19a97" stroke-width="0.6" />
<line x1="158.3" y1="483.3" x2="171.7" y2="483.3" stroke="#b0a9a6" stroke-width="0.5" />
<circle cx="165" cy="447" r="1.9" fill="none" stroke="#a59e9b" stroke-width="0.6"/>
<circle cx="165" cy="465.5" r="1.9" fill="none" stroke="#a59e9b" stroke-width="0.6"/>
<circle cx="165" cy="476" r="1.9" fill="none" stroke="#a59e9b" stroke-width="0.6"/>
<circle cx="165" cy="494" r="1.9" fill="none" stroke="#a59e9b" stroke-width="0.6"/>
<rect x="175.60000000000002" y="452" width="13.4" height="8.3" fill="none" stroke="#a19a97" stroke-width="0.6" />
<line x1="175.60000000000002" y1="454.3" x2="189.0" y2="454.3" stroke="#b0a9a6" stroke-width="0.5" />
<rect x="175.60000000000002" y="481" width="13.4" height="8.3" fill="none" stroke="#a19a97" stroke-width="0.6" />
<line x1="175.60000000000002" y1="483.3" x2="189.0" y2="483.3" stroke="#b0a9a6" stroke-width="0.5" />
<circle cx="182.3" cy="447" r="1.9" fill="none" stroke="#a59e9b" stroke-width="0.6"/>
<circle cx="182.3" cy="465.5" r="1.9" fill="none" stroke="#a59e9b" stroke-width="0.6"/>
<circle cx="182.3" cy="476" r="1.9" fill="none" stroke="#a59e9b" stroke-width="0.6"/>
<circle cx="182.3" cy="494" r="1.9" fill="none" stroke="#a59e9b" stroke-width="0.6"/>
<rect x="192.8" y="452" width="13.4" height="8.3" fill="none" stroke="#a19a97" stroke-width="0.6" />
<line x1="192.8" y1="454.3" x2="206.2" y2="454.3" stroke="#b0a9a6" stroke-width="0.5" />
<rect x="192.8" y="481" width="13.4" height="8.3" fill="none" stroke="#a19a97" stroke-width="0.6" />
<line x1="192.8" y1="483.3" x2="206.2" y2="483.3" stroke="#b0a9a6" stroke-width="0.5" />
<circle cx="199.5" cy="447" r="1.9" fill="none" stroke="#a59e9b" stroke-width="0.6"/>
<circle cx="199.5" cy="465.5" r="1.9" fill="none" stroke="#a59e9b" stroke-width="0.6"/>
<circle cx="199.5" cy="476" r="1.9" fill="none" stroke="#a59e9b" stroke-width="0.6"/>
<circle cx="199.5" cy="494" r="1.9" fill="none" stroke="#a59e9b" stroke-width="0.6"/>
<rect x="210.3" y="452" width="13.4" height="8.3" fill="none" stroke="#a19a97" stroke-width="0.6" />
<line x1="210.3" y1="454.3" x2="223.7" y2="454.3" stroke="#b0a9a6" stroke-width="0.5" />
<rect x="210.3" y="481" width="13.4" height="8.3" fill="none" stroke="#a19a97" stroke-width="0.6" />
<line x1="210.3" y1="483.3" x2="223.7" y2="483.3" stroke="#b0a9a6" stroke-width="0.5" />
<circle cx="217" cy="447" r="1.9" fill="none" stroke="#a59e9b" stroke-width="0.6"/>
<circle cx="217" cy="465.5" r="1.9" fill="none" stroke="#a59e9b" stroke-width="0.6"/>
<circle cx="217" cy="476" r="1.9" fill="none" stroke="#a59e9b" stroke-width="0.6"/>
<circle cx="217" cy="494" r="1.9" fill="none" stroke="#a59e9b" stroke-width="0.6"/>
<rect x="227.60000000000002" y="452" width="13.4" height="8.3" fill="none" stroke="#a19a97" stroke-width="0.6" />
<line x1="227.60000000000002" y1="454.3" x2="241.0" y2="454.3" stroke="#b0a9a6" stroke-width="0.5" />
<rect x="227.60000000000002" y="481" width="13.4" height="8.3" fill="none" stroke="#a19a97" stroke-width="0.6" />
<line x1="227.60000000000002" y1="483.3" x2="241.0" y2="483.3" stroke="#b0a9a6" stroke-width="0.5" />
<circle cx="234.3" cy="447" r="1.9" fill="none" stroke="#a59e9b" stroke-width="0.6"/>
<circle cx="234.3" cy="465.5" r="1.9" fill="none" stroke="#a59e9b" stroke-width="0.6"/>
<circle cx="234.3" cy="476" r="1.9" fill="none" stroke="#a59e9b" stroke-width="0.6"/>
<circle cx="234.3" cy="494" r="1.9" fill="none" stroke="#a59e9b" stroke-width="0.6"/>
<rect x="245.0" y="452" width="13.4" height="8.3" fill="none" stroke="#a19a97" stroke-width="0.6" />
<line x1="245.0" y1="454.3" x2="258.4" y2="454.3" stroke="#b0a9a6" stroke-width="0.5" />
<rect x="245.0" y="481" width="13.4" height="8.3" fill="none" stroke="#a19a97" stroke-width="0.6" />
<line x1="245.0" y1="483.3" x2="258.4" y2="483.3" stroke="#b0a9a6" stroke-width="0.5" />
<circle cx="251.7" cy="447" r="1.9" fill="none" stroke="#a59e9b" stroke-width="0.6"/>
<circle cx="251.7" cy="465.5" r="1.9" fill="none" stroke="#a59e9b" stroke-width="0.6"/>
<circle cx="251.7" cy="476" r="1.9" fill="none" stroke="#a59e9b" stroke-width="0.6"/>
<circle cx="251.7" cy="494" r="1.9" fill="none" stroke="#a59e9b" stroke-width="0.6"/>
<rect x="262.3" y="452" width="13.4" height="8.3" fill="none" stroke="#a19a97" stroke-width="0.6" />
<line x1="262.3" y1="454.3" x2="275.7" y2="454.3" stroke="#b0a9a6" stroke-width="0.5" />
<rect x="262.3" y="481" width="13.4" height="8.3" fill="none" stroke="#a19a97" stroke-width="0.6" />
<line x1="262.3" y1="483.3" x2="275.7" y2="483.3" stroke="#b0a9a6" stroke-width="0.5" />
<circle cx="269" cy="447" r="1.9" fill="none" stroke="#a59e9b" stroke-width="0.6"/>
<circle cx="269" cy="465.5" r="1.9" fill="none" stroke="#a59e9b" stroke-width="0.6"/>
<circle cx="269" cy="476" r="1.9" fill="none" stroke="#a59e9b" stroke-width="0.6"/>
<circle cx="269" cy="494" r="1.9" fill="none" stroke="#a59e9b" stroke-width="0.6"/>
<rect x="279.6" y="452" width="13.4" height="8.3" fill="none" stroke="#a19a97" stroke-width="0.6" />
<line x1="279.6" y1="454.3" x2="293.0" y2="454.3" stroke="#b0a9a6" stroke-width="0.5" />
<rect x="279.6" y="481" width="13.4" height="8.3" fill="none" stroke="#a19a97" stroke-width="0.6" />
<line x1="279.6" y1="483.3" x2="293.0" y2="483.3" stroke="#b0a9a6" stroke-width="0.5" />
<circle cx="286.3" cy="447" r="1.9" fill="none" stroke="#a59e9b" stroke-width="0.6"/>
<circle cx="286.3" cy="465.5" r="1.9" fill="none" stroke="#a59e9b" stroke-width="0.6"/>
<circle cx="286.3" cy="476" r="1.9" fill="none" stroke="#a59e9b" stroke-width="0.6"/>
<circle cx="286.3" cy="494" r="1.9" fill="none" stroke="#a59e9b" stroke-width="0.6"/>
<rect x="296.6" y="452" width="13.4" height="8.3" fill="none" stroke="#a19a97" stroke-width="0.6" />
<line x1="296.6" y1="454.3" x2="310.0" y2="454.3" stroke="#b0a9a6" stroke-width="0.5" />
<rect x="296.6" y="481" width="13.4" height="8.3" fill="none" stroke="#a19a97" stroke-width="0.6" />
<line x1="296.6" y1="483.3" x2="310.0" y2="483.3" stroke="#b0a9a6" stroke-width="0.5" />
<circle cx="303.3" cy="447" r="1.9" fill="none" stroke="#a59e9b" stroke-width="0.6"/>
<circle cx="303.3" cy="465.5" r="1.9" fill="none" stroke="#a59e9b" stroke-width="0.6"/>
<circle cx="303.3" cy="476" r="1.9" fill="none" stroke="#a59e9b" stroke-width="0.6"/>
<circle cx="303.3" cy="494" r="1.9" fill="none" stroke="#a59e9b" stroke-width="0.6"/>
<text x="311" y="460" font-size="4.4" fill="#666" transform="rotate(90 311 460)" >37</text>
<text x="311" y="489" font-size="4.4" fill="#666" transform="rotate(90 311 489)" >37</text>
<rect x="272.5" y="360.5" width="49.0" height="68.5" fill="#dfd7d4" stroke="#b1aaa7" stroke-width="0.6"/>
<rect x="272.5" y="360.5" width="25.0" height="69.0" fill="#959693" />
<line x1="300.5" y1="362" x2="300.5" y2="427" stroke="#6e6e6e" stroke-width="1.1" />
<line x1="304.5" y1="365" x2="304.5" y2="422" stroke="#868584" stroke-width="0.9" />
<line x1="315" y1="362.5" x2="315" y2="379.5" stroke="#868584" stroke-width="0.8" />
<line x1="315" y1="384" x2="315" y2="401" stroke="#868584" stroke-width="0.8" />
<line x1="308.5" y1="406" x2="318.5" y2="422" stroke="#868584" stroke-width="0.8" />
<line x1="304.5" y1="414" x2="313.5" y2="414" stroke="#868584" stroke-width="0.8" />
<text x="309" y="407" font-size="4.2" fill="#555" transform="rotate(-90 309 407)" >34b</text>
<polyline points="368.7,266.0 365.5,268.0 363.37,270.0 361.54,272.0 359.78,274.0 358.29,276.0 357.08,278.0 355.86,280.0 354.76,282.0 353.71,284.0 352.65,286.0 351.6,288.0 350.54,290.0 349.49,292.0 348.54,294.0 347.88,296.0 347.23,298.0 346.57,300.0 345.92,302.0 345.26,304.0 344.61,306.0 343.95,308.0 343.3,310.0 342.79,312.0 342.29,314.0 341.78,316.0 341.27,318.0 340.77,320.0 340.26,322.0 339.75,324.0 339.25,326.0 338.74,328.0 338.23,330.0 337.73,332.0 337.22,334.0 336.71,336.0 336.21,338.0 335.7,340.0 335.39,342.0 335.08,344.0 334.78,346.0 334.47,348.0 334.16,350.0 333.85,352.0 333.54,354.0 333.23,356.0 332.92,358.0 332.62,360.0 332.31,362.0 332.0,364.0 331.82,366.0 331.65,368.0 331.47,370.0 331.29,372.0 331.12,374.0 330.94,376.0 330.76,378.0 330.58,380.0 330.41,382.0 330.23,384.0 330.05,386.0 329.88,388.0 329.7,390.0 329.66,392.0 329.62,394.0 329.58,396.0 329.54,398.0 329.5,400.0 329.46,402.0 329.42,404.0 329.38,406.0 329.34,408.0 329.3,410.0 329.26,412.0 329.22,414.0 329.18,416.0 329.14,418.0 329.1,420.0 329,490 334,496.5 349,496.5 349,490" fill="none" stroke="#a59e9c" stroke-width="0.6" />
<polyline points="368.7,266.0 371.9,268.0 374.02,270.0 375.86,272.0 377.62,274.0 379.11,276.0 380.32,278.0 381.54,280.0 382.64,282.0 383.69,284.0 384.75,286.0 385.8,288.0 386.86,290.0 387.91,292.0 388.86,294.0 389.52,296.0 390.17,298.0 390.83,300.0 391.48,302.0 392.14,304.0 392.79,306.0 393.45,308.0 394.1,310.0 394.61,312.0 395.11,314.0 395.62,316.0 396.13,318.0 396.63,320.0 397.14,322.0 397.65,324.0 398.15,326.0 398.66,328.0 399.17,330.0 399.67,332.0 400.18,334.0 400.69,336.0 401.19,338.0 401.7,340.0 402.01,342.0 402.32,344.0 402.62,346.0 402.93,348.0 403.24,350.0 403.55,352.0 403.86,354.0 404.17,356.0 404.48,358.0 404.78,360.0 405.09,362.0 405.4,364.0 405.58,366.0 405.75,368.0 405.93,370.0 406.11,372.0 406.28,374.0 406.46,376.0 406.64,378.0 406.82,380.0 406.99,382.0 407.17,384.0 407.35,386.0 407.52,388.0 407.7,390.0 407.74,392.0 407.78,394.0 407.82,396.0 407.86,398.0 407.9,400.0 407.94,402.0 407.98,404.0 408.02,406.0 408.06,408.0 408.1,410.0 408.14,412.0 408.18,414.0 408.22,416.0 408.26,418.0 408.3,420.0 409,490 404,496.5 389.5,496.5 389.5,490" fill="none" stroke="#a59e9c" stroke-width="0.6" />
<line x1="368.5" y1="266" x2="368.5" y2="310" stroke="#a59e9c" stroke-width="0.6" />
<line x1="343.5" y1="310" x2="394" y2="310" stroke="#a59e9c" stroke-width="0.6" />
<path d="M362,310 Q354,340 351.5,364 Q349.5,385 349,420 L349,490" fill="none" stroke="#a59e9c" stroke-width="0.6" />
<path d="M376.5,310 Q385,340 388,364 Q389.500,385 389.5,420 L389.5,490" fill="none" stroke="#a59e9c" stroke-width="0.6" />
<line x1="332" y1="364" x2="351.5" y2="364" stroke="#a59e9c" stroke-width="0.6" />
<line x1="388" y1="364" x2="405.5" y2="364" stroke="#a59e9c" stroke-width="0.6" />
<line x1="329" y1="416" x2="349" y2="416" stroke="#a59e9c" stroke-width="0.6" />
<line x1="389.5" y1="416" x2="409" y2="416" stroke="#a59e9c" stroke-width="0.6" />
<line x1="329" y1="481" x2="349" y2="481" stroke="#a59e9c" stroke-width="0.6" />
<line x1="389.5" y1="481" x2="409" y2="481" stroke="#a59e9c" stroke-width="0.6" />
<rect x="367" y="319" width="3" height="20.5" fill="#555" />
<rect x="367" y="352.5" width="3" height="23.5" fill="#555" />
<rect x="370" y="321" width="3.5" height="2.5" fill="#aaa" />
<rect x="370" y="326" width="3.5" height="2.5" fill="#aaa" />
<rect x="370" y="331" width="3.5" height="2.5" fill="#aaa" />
<rect x="370" y="336" width="3.5" height="2.5" fill="#aaa" />
<rect x="370" y="355" width="3.5" height="2.5" fill="#aaa" />
<rect x="370" y="360" width="3.5" height="2.5" fill="#aaa" />
<rect x="370" y="365" width="3.5" height="2.5" fill="#aaa" />
<rect x="370" y="370" width="3.5" height="2.5" fill="#aaa" />
<circle cx="371.5" cy="346" r="0.8" fill="#555" stroke="none" stroke-width="0.7"/>
<rect x="351" y="384" width="36.5" height="112" fill="#dfd7d4" stroke="#a39c99" stroke-width="0.6"/>
<rect x="351" y="384" width="18.5" height="112" fill="#959693" />
<line x1="351" y1="413.5" x2="387.5" y2="413.5" stroke="#a39c99" stroke-width="0.6" />
<line x1="351" y1="455" x2="387.5" y2="455" stroke="#a39c99" stroke-width="0.6" />
<line x1="351" y1="448" x2="369.5" y2="448" stroke="#7d7e7c" stroke-width="0.5" />
<line x1="351" y1="487" x2="369.5" y2="487" stroke="#7d7e7c" stroke-width="0.5" />
<line x1="372" y1="388" x2="372" y2="405" stroke="#868584" stroke-width="0.9" />
<line x1="378.5" y1="386.5" x2="378.5" y2="411" stroke="#868584" stroke-width="0.9" />
<line x1="384" y1="389" x2="384" y2="405" stroke="#868584" stroke-width="0.9" />
<line x1="372" y1="459.5" x2="372" y2="477.5" stroke="#868584" stroke-width="0.9" />
<line x1="378.5" y1="459" x2="378.5" y2="489" stroke="#868584" stroke-width="0.9" />
<line x1="384" y1="460" x2="384" y2="476" stroke="#868584" stroke-width="0.9" />
<line x1="378.5" y1="417" x2="378.5" y2="449" stroke="#868584" stroke-width="0.9" />
<polyline points="373.5,419 376,426 378.3,432" fill="none" stroke="#868584" stroke-width="0.9" />
<text x="374" y="441" font-size="4.2" fill="#555" transform="rotate(-90 374 441)" >34</text>
<text x="340" y="455" font-size="6.1" fill="#666" transform="rotate(-90 340 455)" >34a</text>
<text x="400" y="455" font-size="6.1" fill="#666" transform="rotate(-90 400 455)" >14</text>
<line x1="365" y1="502" x2="369" y2="502" stroke="#999" stroke-width="0.5" />
<line x1="366.5" y1="499" x2="366.5" y2="505" stroke="#999" stroke-width="0.5" />
<rect x="419.5" y="13" width="20.0" height="81.5" fill="none" stroke="#a59e9c" stroke-width="0.55" />
<rect x="386.5" y="23.5" width="16.5" height="60.5" fill="none" stroke="#a59e9c" stroke-width="0.55" />
<polyline points="403,26 419.5,26" fill="none" stroke="#a59e9c" stroke-width="0.55" />
<polyline points="403,81 419.5,81" fill="none" stroke="#a59e9c" stroke-width="0.55" />
<line x1="386.5" y1="39" x2="419.5" y2="39" stroke="#a59e9c" stroke-width="0.55" />
<line x1="386.5" y1="53.5" x2="439.5" y2="53.5" stroke="#a59e9c" stroke-width="0.55" />
<line x1="386.5" y1="68" x2="419.5" y2="68" stroke="#a59e9c" stroke-width="0.55" />
<text x="433" y="79" font-size="6.7" fill="#666" transform="rotate(-90 433 79)" >8</text>
<rect x="419.5" y="100" width="19.5" height="81" fill="none" stroke="#a59e9c" stroke-width="0.55" />
<rect x="386.5" y="113" width="16.5" height="13" fill="none" stroke="#a59e9c" stroke-width="0.55" />
<rect x="403" y="113" width="16.5" height="13" fill="none" stroke="#a59e9c" stroke-width="0.55" />
<rect x="386.5" y="155" width="16.5" height="12.5" fill="none" stroke="#a59e9c" stroke-width="0.55" />
<rect x="403" y="155" width="16.5" height="12.5" fill="none" stroke="#a59e9c" stroke-width="0.55" />
<line x1="386.5" y1="126" x2="386.5" y2="155" stroke="#a59e9c" stroke-width="0.55" />
<line x1="386.5" y1="140.5" x2="439" y2="140.5" stroke="#a59e9c" stroke-width="0.55" />
<text x="433" y="121" font-size="6.7" fill="#666" transform="rotate(-90 433 121)" >7</text>
<rect x="419.5" y="187.5" width="19.5" height="78.5" fill="none" stroke="#a59e9c" stroke-width="0.55" />
<rect x="403" y="200" width="16.5" height="13" fill="none" stroke="#a59e9c" stroke-width="0.55" />
<rect x="386.5" y="206" width="16.5" height="7" fill="none" stroke="#a59e9c" stroke-width="0.55" />
<rect x="403" y="241" width="16.5" height="12" fill="none" stroke="#a59e9c" stroke-width="0.55" />
<rect x="386.5" y="241" width="16.5" height="6" fill="none" stroke="#a59e9c" stroke-width="0.55" />
<line x1="386.5" y1="213" x2="386.5" y2="241" stroke="#a59e9c" stroke-width="0.55" />
<line x1="403" y1="213" x2="403" y2="241" stroke="#a59e9c" stroke-width="0.55" />
<line x1="386.5" y1="226.5" x2="439" y2="226.5" stroke="#a59e9c" stroke-width="0.55" />
<text x="433" y="252" font-size="6.7" fill="#666" transform="rotate(-90 433 252)" >6</text>
<polygon points="419.5,273.5 439,275 439,347.5 419.5,350.5" fill="none" stroke="#a59e9c" stroke-width="0.55" />
<rect x="403" y="296" width="16.5" height="31" fill="none" stroke="#a59e9c" stroke-width="0.55" />
<line x1="403" y1="310.5" x2="439" y2="310.5" stroke="#a59e9c" stroke-width="0.55" />
<text x="433" y="295" font-size="6.7" fill="#666" transform="rotate(-90 433 295)" >5</text>
<path d="M453,160 Q453,157 456,157.5 L470,158.5 Q473.5,159 473.5,162 L473.5,228 L453.3,231.5 Z" fill="none" stroke="#a59e9c" stroke-width="0.55" />
<line x1="453" y1="194" x2="473.5" y2="194" stroke="#a59e9c" stroke-width="0.55" />
<text x="466" y="212" font-size="6.7" fill="#666" transform="rotate(-90 466 212)" >4</text>
<path d="M453.3,237.5 Q468,239 472.8,246 L472.8,300 L453.5,305.5 Z" fill="none" stroke="#a59e9c" stroke-width="0.55" />
<line x1="453.3" y1="271.5" x2="472.8" y2="271.5" stroke="#a59e9c" stroke-width="0.55" />
<text x="466" y="257" font-size="6.7" fill="#666" transform="rotate(-90 466 257)" >3</text>
<polygon points="458.5,331.5 475,332 495.5,338 495.5,404 475,409.5 458.3,411 458.3,396 441.5,396 441.5,347.5 458.5,347.5" fill="none" stroke="#a59e9c" stroke-width="0.55" />
<line x1="441.5" y1="371.5" x2="495.5" y2="371.5" stroke="#a59e9c" stroke-width="0.55" />
<line x1="473.5" y1="333" x2="473.5" y2="348" stroke="#a59e9c" stroke-width="0.55" />
<line x1="473.5" y1="392" x2="473.5" y2="409" stroke="#a59e9c" stroke-width="0.55" />
<line x1="457.5" y1="341" x2="457.5" y2="357" stroke="#a59e9c" stroke-width="0.55" />
<line x1="457.5" y1="386" x2="457.5" y2="402" stroke="#a59e9c" stroke-width="0.55" />
<text x="488" y="354" font-size="6.7" fill="#666" transform="rotate(-90 488 354)" >11</text>
<rect x="459.5" y="416.5" width="36.0" height="78.5" fill="none" stroke="#a59e9c" stroke-width="0.55" />
<line x1="426" y1="456" x2="495.5" y2="456" stroke="#a59e9c" stroke-width="0.55" />
<rect x="426" y="430" width="17" height="11.5" fill="none" stroke="#a59e9c" stroke-width="0.55" />
<rect x="443" y="427" width="16.5" height="14.5" fill="none" stroke="#a59e9c" stroke-width="0.55" />
<rect x="426" y="470" width="17" height="13" fill="none" stroke="#a59e9c" stroke-width="0.55" />
<rect x="443" y="470" width="16.5" height="15.5" fill="none" stroke="#a59e9c" stroke-width="0.55" />
<line x1="426" y1="441.5" x2="426" y2="470" stroke="#a59e9c" stroke-width="0.55" />
<line x1="443" y1="441.5" x2="443" y2="470" stroke="#a59e9c" stroke-width="0.55" />
<line x1="475.5" y1="417" x2="475.5" y2="436" stroke="#a59e9c" stroke-width="0.55" />
<line x1="475.5" y1="478" x2="475.5" y2="495" stroke="#a59e9c" stroke-width="0.55" />
<text x="487" y="479" font-size="6.7" fill="#666" transform="rotate(-90 487 479)" >10</text>
<rect x="485.5" y="13" width="52.5" height="23" fill="none" stroke="#a59e9c" stroke-width="0.55" />
<line x1="468" y1="46" x2="538" y2="46" stroke="#a59e9c" stroke-width="0.55" />
<line x1="485.5" y1="36" x2="485.5" y2="68" stroke="#a59e9c" stroke-width="0.55" />
<polygon points="453.5,27 467,25.5 468,39.5 452.5,39" fill="none" stroke="#a59e9c" stroke-width="0.55" />
<polyline points="467,25.5 485.5,24" fill="none" stroke="#a59e9c" stroke-width="0.55" />
<line x1="468" y1="39.5" x2="468" y2="68" stroke="#a59e9c" stroke-width="0.55" />
<rect x="450.5" y="51" width="17.5" height="17" fill="none" stroke="#a59e9c" stroke-width="0.55" />
<line x1="468" y1="68" x2="502" y2="68" stroke="#a59e9c" stroke-width="0.55" />
<line x1="502" y1="46" x2="502" y2="112" stroke="#a59e9c" stroke-width="0.55" />
<polyline points="502,90 485.5,90 485.5,97 468,97 468,104 451.5,104 451.5,124.5 468,124.5 468,132 485.5,132" fill="none" stroke="#a59e9c" stroke-width="0.55" />
<line x1="485.5" y1="90" x2="485.5" y2="112" stroke="#a59e9c" stroke-width="0.55" />
<line x1="468" y1="104" x2="468" y2="124.5" stroke="#a59e9c" stroke-width="0.55" />
<line x1="451.5" y1="112" x2="538" y2="112" stroke="#a59e9c" stroke-width="0.55" />
<line x1="485.5" y1="112" x2="485.5" y2="186" stroke="#a59e9c" stroke-width="0.55" />
<line x1="485.5" y1="177.5" x2="538" y2="177.5" stroke="#a59e9c" stroke-width="0.55" />
<polyline points="485.5,186 502.5,186 502.5,198 518.5,198" fill="none" stroke="#a59e9c" stroke-width="0.55" />
<line x1="502.5" y1="178" x2="502.5" y2="186" stroke="#a59e9c" stroke-width="0.55" />
<line x1="518.5" y1="178" x2="518.5" y2="239.5" stroke="#a59e9c" stroke-width="0.55" />
<polyline points="518.5,218 502.5,218 502.5,230 485.5,230 485.5,255 502,255 502,285 485.5,285 485.5,312 502,312" fill="none" stroke="#a59e9c" stroke-width="0.55" />
<line x1="502.5" y1="230" x2="502.5" y2="239.5" stroke="#a59e9c" stroke-width="0.55" />
<line x1="485.5" y1="239.5" x2="538" y2="239.5" stroke="#a59e9c" stroke-width="0.55" />
<line x1="485.5" y1="302" x2="538" y2="302" stroke="#a59e9c" stroke-width="0.55" />
<line x1="502" y1="302" x2="502" y2="367" stroke="#a59e9c" stroke-width="0.55" />
<line x1="502" y1="362" x2="537.5" y2="362" stroke="#a59e9c" stroke-width="0.55" />
<polyline points="502,367 517.5,367 517.5,484 522,481.5 526,478 531,477 531,481 537,477 539.5,473" fill="none" stroke="#a59e9c" stroke-width="0.55" />
<line x1="517.5" y1="414" x2="537.5" y2="414" stroke="#a59e9c" stroke-width="0.55" />
<line x1="517.5" y1="466.5" x2="537.5" y2="466.5" stroke="#a59e9c" stroke-width="0.55" />
<line x1="538" y1="13" x2="537.5" y2="466.5" stroke="#a59e9c" stroke-width="0.55" />
<line x1="542.5" y1="13" x2="542" y2="470" stroke="#a59e9c" stroke-width="0.5" stroke-dasharray="3 1.5"/>
<polyline points="542.5,42 538.5,46 542.5,50" fill="none" stroke="#a59e9c" stroke-width="0.5" />
<polyline points="542.5,108 538.5,112 542.5,116" fill="none" stroke="#a59e9c" stroke-width="0.5" />
<polyline points="542.5,173.5 538.5,177.5 542.5,181.5" fill="none" stroke="#a59e9c" stroke-width="0.5" />
<polyline points="542.5,235.5 538.5,239.5 542.5,243.5" fill="none" stroke="#a59e9c" stroke-width="0.5" />
<polyline points="542.5,298 538.5,302 542.5,306" fill="none" stroke="#a59e9c" stroke-width="0.5" />
<polyline points="542.5,358 538.5,362 542.5,366" fill="none" stroke="#a59e9c" stroke-width="0.5" />
<polyline points="542.5,410 538.5,414 542.5,418" fill="none" stroke="#a59e9c" stroke-width="0.5" />
<polyline points="542.5,462.5 538.5,466.5 542.5,470.5" fill="none" stroke="#a59e9c" stroke-width="0.5" />
<text x="515" y="152" font-size="6.7" fill="#666" transform="rotate(-90 515 152)" >2b</text>
<polyline points="547,13 634.5,13" fill="none" stroke="#a59e9c" stroke-width="0.55" />
<path d="M547,13 L547,40 L550,44 L547.5,48 L548.5,100 L551,105.5 L549.5,110 L552.5,158.5 L558,211.5 L560,224 L565,230 L612,230 L617,224 L619.5,211.5 L629.5,158.5 L632.500,110 L631,105.5 L633.500,100 L634.5,48 L631.500,44 L634.5,40 L634.5,13" fill="none" stroke="#a59e9c" stroke-width="0.55" />
<path d="M550.5,13 L550.5,44 L552,105.5 L555.500,158.5 L561.500,211.5" fill="none" stroke="#a59e9c" stroke-width="0.5" stroke-dasharray="3 1.5"/>
<path d="M630.5,13 L630.5,44 L629,105.5 L626,158.5 L616.500,211.5" fill="none" stroke="#a59e9c" stroke-width="0.5" stroke-dasharray="3 1.5"/>
<line x1="586.5" y1="13" x2="587.5" y2="230" stroke="#a59e9c" stroke-width="0.5" />
<line x1="590" y1="13" x2="590" y2="230" stroke="#a59e9c" stroke-width="0.5" />
<line x1="550.5" y1="31" x2="586.5" y2="31" stroke="#a59e9c" stroke-width="0.55" />
<line x1="590" y1="31" x2="630.5" y2="31" stroke="#a59e9c" stroke-width="0.55" />
<line x1="550" y1="44" x2="631.5" y2="44" stroke="#a59e9c" stroke-width="0.55" />
<line x1="551" y1="105.5" x2="631" y2="105.5" stroke="#a59e9c" stroke-width="0.55" />
<line x1="552.5" y1="158.5" x2="629.5" y2="158.5" stroke="#a59e9c" stroke-width="0.55" />
<line x1="558" y1="211.5" x2="619.5" y2="211.5" stroke="#a59e9c" stroke-width="0.55" />
<text x="606" y="134" font-size="6.1" fill="#666" transform="rotate(-90 606 134)" >1b</text>
<path d="M668.5,40.5 L657.5,67 L642,113 Q640.5,118 641,120 L630.5,173 L624.5,227 L623.5,238.5 L622.5,304 L622,368 L621.5,430 L624,435 L624,495 L658.5,495 L658.5,443.5" fill="none" stroke="#a59e9c" stroke-width="0.55" />
<path d="M669.5,40.5 L679,62.5 L677,67 L680,69 L694.5,113 Q696,118 697,120 L704,173 L710,227 L710,238.5 L710.5,304 L711,368 L711,430 L708,435" fill="none" stroke="#a59e9c" stroke-width="0.55" />
<path d="M667.5,46 L660.5,68 L646,112 L645,120 L634.500,173 L628.500,227 L627.500,238.5 L626.5,304 L626,368 L625.500,430" fill="none" stroke="#a59e9c" stroke-width="0.5" stroke-dasharray="3 1.5"/>
<path d="M671,48 L676,68 L690.5,112 L693,120 L700,173 L706,227 L706,238.5 L706.5,304 L707,368 L707,430" fill="none" stroke="#a59e9c" stroke-width="0.5" stroke-dasharray="3 1.5"/>
<path d="M669,40.5 L667.5,66 L665.5,117 M670,44 L671,66 L677,67" fill="none" stroke="#a59e9c" stroke-width="0.55" />
<polyline points="667.5,66 667.3,120 664.2,240 663.5,430" fill="none" stroke="#a59e9c" stroke-width="0.5" />
<polyline points="669.7,67 670.7,120 667.4,240 666.8,430" fill="none" stroke="#a59e9c" stroke-width="0.5" />
<line x1="641" y1="120" x2="697" y2="120" stroke="#a59e9c" stroke-width="0.55" />
<line x1="630.5" y1="173" x2="704" y2="173" stroke="#a59e9c" stroke-width="0.55" />
<line x1="623.5" y1="238.5" x2="710" y2="238.5" stroke="#a59e9c" stroke-width="0.55" />
<line x1="622.5" y1="304" x2="710.5" y2="304" stroke="#a59e9c" stroke-width="0.55" />
<line x1="622" y1="368" x2="711" y2="368" stroke="#a59e9c" stroke-width="0.55" />
<line x1="624" y1="435" x2="708" y2="435" stroke="#a59e9c" stroke-width="0.55" />
<rect x="624" y="443.5" width="34.5" height="51.5" fill="none" stroke="#a59e9c" stroke-width="0.55" />
<rect x="663" y="443.5" width="39" height="51.5" fill="none" stroke="#a59e9c" stroke-width="0.55" />
<line x1="617" y1="460.5" x2="713" y2="460.5" stroke="#8f8b89" stroke-width="0.6" />
<text x="633" y="296" font-size="6.1" fill="#666" transform="rotate(-90 633 296)" >1</text>
<text x="644" y="481" font-size="5.0" fill="#666" transform="rotate(-90 644 481)" >1a</text>
<text x="686" y="481" font-size="5.0" fill="#666" transform="rotate(-90 686 481)" >1a</text>
<path d="M562,258.5 L610,288 L613,300 L613,415 L609.5,418.5" fill="none" stroke="#a59e9c" stroke-width="0.55" />
<path d="M562,258.5 L566.5,312 L571,415" fill="none" stroke="#a59e9c" stroke-width="0.55" />
<line x1="581" y1="270" x2="581" y2="312" stroke="#a59e9c" stroke-width="0.55" />
<line x1="566.5" y1="312" x2="610" y2="312" stroke="#a59e9c" stroke-width="0.55" />
<line x1="568.5" y1="365" x2="609.5" y2="365" stroke="#a59e9c" stroke-width="0.55" />
<line x1="609.5" y1="300" x2="609.5" y2="418.5" stroke="#a59e9c" stroke-width="0.5" stroke-dasharray="3 1.5"/>
<rect x="553.5" y="408.5" width="17.0" height="9.5" fill="none" stroke="#a59e9c" stroke-width="0.55" />
<rect x="555.5" y="418.5" width="52.5" height="76.5" fill="none" stroke="#a59e9c" stroke-width="0.55" />
<line x1="555.5" y1="428" x2="608" y2="428" stroke="#a59e9c" stroke-width="0.55" />
<line x1="550" y1="450.5" x2="612" y2="450.5" stroke="#8f8b89" stroke-width="0.6" />
<polyline points="608,418.5 612,422 612,450.5" fill="none" stroke="#a59e9c" stroke-width="0.5" />
<text x="590" y="340" font-size="6.7" fill="#666" transform="rotate(-90 590 340)" >2</text>
<text x="582" y="475" font-size="6.1" fill="#666" transform="rotate(-90 582 475)" >2a</text>
<text x="674" y="17" font-size="4.4" fill="#888785" >J/81</text>
<text x="711.3" y="36.8" font-size="6.2" fill="#3c3c3c" transform="rotate(-90 711.3 36.8)" font-style="normal">Bogen 3</text>
</g>
</g>
</svg>
</body></html>
